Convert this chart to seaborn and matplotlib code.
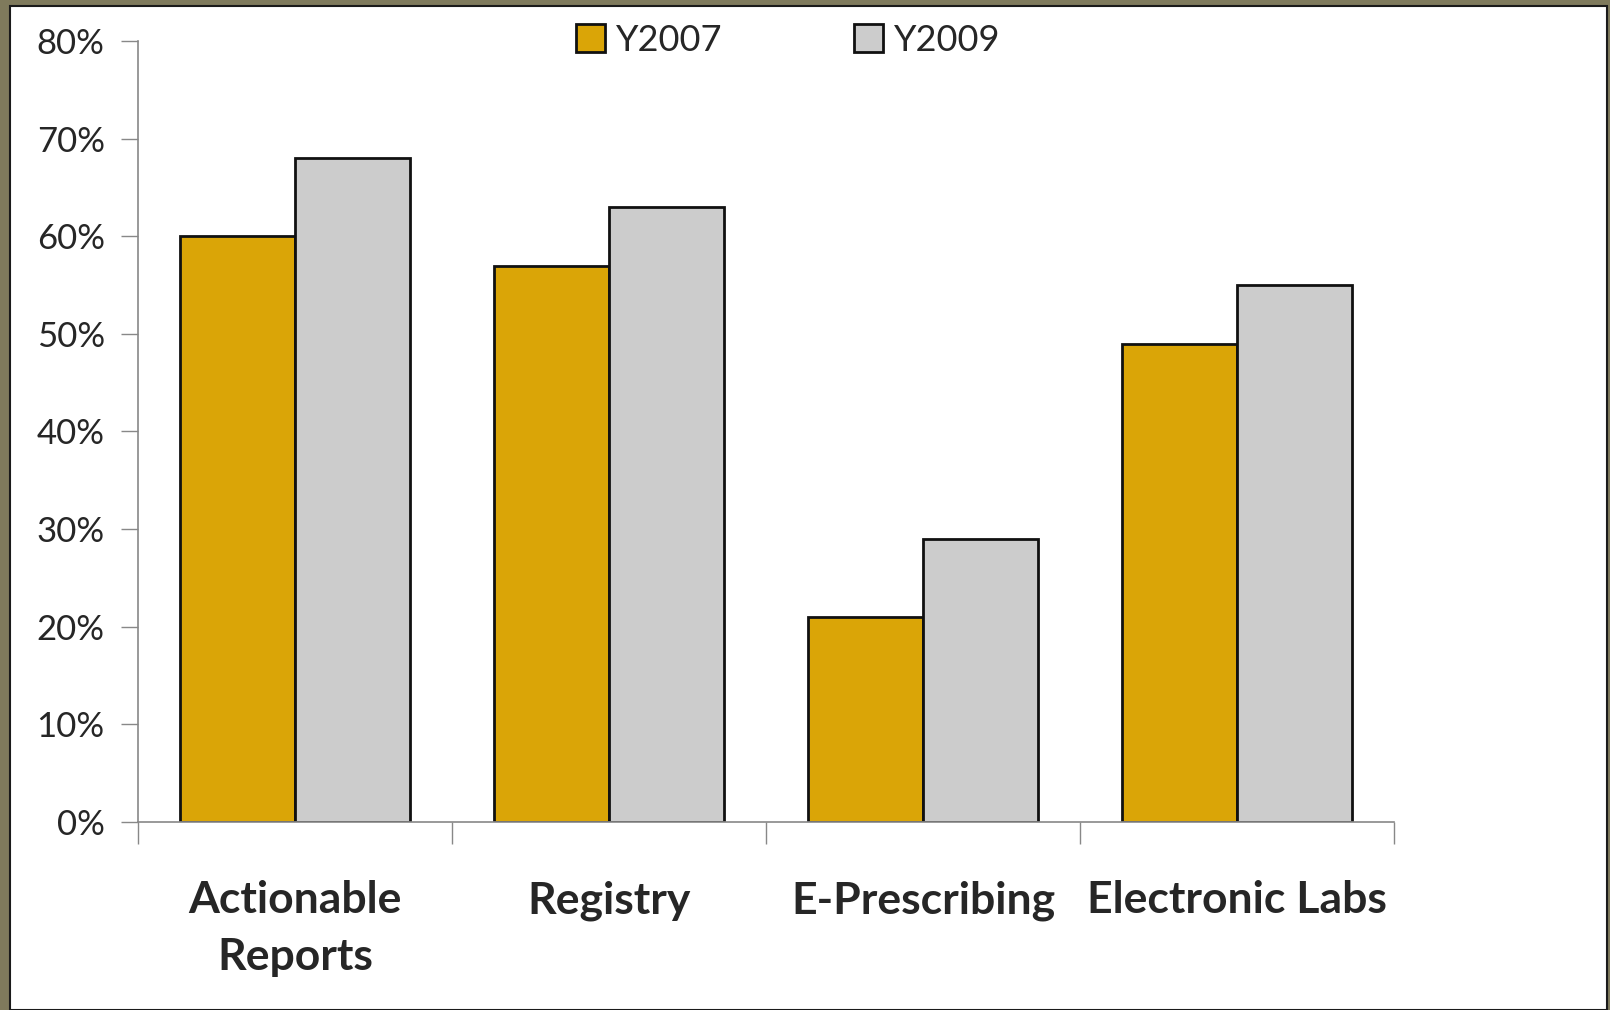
import matplotlib
matplotlib.use("Agg")
import matplotlib.pyplot as plt
from matplotlib.patches import Rectangle
import seaborn as sns
import pandas as pd

categories = ["Actionable\nReports", "Registry", "E-Prescribing", "Electronic Labs"]
series_names = ["Y2007", "Y2009"]
y2007 = [60, 57, 21, 49]
y2009 = [68, 63, 29, 55]
y_ticks = [0, 10, 20, 30, 40, 50, 60, 70, 80]
y_tick_labels = ["0%", "10%", "20%", "30%", "40%", "50%", "60%", "70%", "80%"]

df = pd.DataFrame({
    "category": categories * 2,
    "series": [series_names[0]] * 4 + [series_names[1]] * 4,
    "value": y2007 + y2009,
})

sns.set_style("white")
plt.rcParams["font.family"] = ["Lato", "DejaVu Sans"]

fig = plt.figure(figsize=(16.1, 10.1), dpi=100)
fig.patch.set_facecolor("#7F7A5C")
fig.add_artist(Rectangle((10 / 1610, 0), (1607 - 10) / 1610, (1010 - 6) / 1010,
                         transform=fig.transFigure, facecolor="white",
                         edgecolor="#1a1a1a", linewidth=1.5, zorder=0))

ax = fig.add_axes([138 / 1610, 1 - 822 / 1010, (1394 - 138) / 1610, (822 - 41) / 1010])
ax.set_facecolor("none")

sns.barplot(data=df, x="category", y="value", hue="series",
            palette=["#DAA507", "#CCCCCC"], saturation=1, width=0.735, gap=0,
            edgecolor="#111111", linewidth=2, ax=ax, legend=True)

ax.set_xlim(-0.5, 3.5)
ax.set_ylim(0, 80)
ax.set_yticks(y_ticks)
ax.set_yticklabels(y_tick_labels, fontsize=25)
ax.tick_params(axis="y", length=12, width=1, color="#888888", pad=12, direction="out", left=True)

ax.set_xticks([-0.5, 0.5, 1.5, 2.5, 3.5])
ax.set_xticklabels([])
ax.tick_params(axis="x", which="major", length=16, width=1, color="#888888", direction="out", bottom=True)
ax.set_xticks([0, 1, 2, 3], minor=True)
ax.set_xticklabels(categories, minor=True, fontsize=32, fontweight="bold", linespacing=1.5)
ax.tick_params(axis="x", which="minor", length=0, pad=42)
ax.set_xlabel("")
ax.set_ylabel("")

for s in ["top", "right"]:
    ax.spines[s].set_visible(False)
for s in ["left", "bottom"]:
    ax.spines[s].set_color("#888888")
    ax.spines[s].set_linewidth(1.2)

leg = ax.legend(loc="upper left", bbox_to_anchor=(0.349, 1.022), ncol=2, frameon=False,
                fontsize=26, handlelength=0.8, handleheight=0.8, handletextpad=0.3,
                columnspacing=3.65, borderaxespad=0, borderpad=0)
for h in leg.legend_handles:
    h.set_edgecolor("#111111")
    h.set_linewidth(2)

fig.savefig("out.png", dpi=100, facecolor=fig.get_facecolor())
